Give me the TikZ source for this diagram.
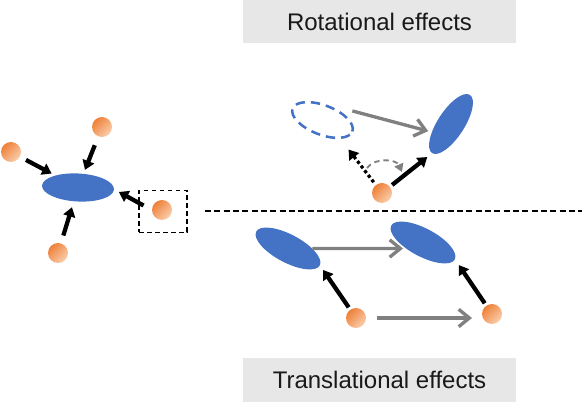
\documentclass[tikz,border=0pt]{standalone}
\usepackage{fontspec}
\setmainfont{Liberation Sans}
\usetikzlibrary{arrows.meta, shapes.geometric}
\definecolor{blobblue}{RGB}{68, 114, 196}
\definecolor{ballorange}{RGB}{238, 128, 56}
\definecolor{ballpale}{RGB}{250, 206, 172}
\definecolor{arrowgray}{RGB}{128, 128, 128}
\definecolor{panelgray}{RGB}{231, 231, 231}
\pgfdeclareradialshading{blobfade}{\pgfpoint{0bp}{0bp}}{color(0bp)=(blobblue); color(31bp)=(blobblue); color(50bp)=(white)}

\begin{document}
\begin{tikzpicture}[
    x=0.75pt, y=-0.75pt,
    panel/.style={fill=panelgray, minimum width=205pt, minimum height=33pt, inner sep=0pt, font=\fontsize{18}{21}\selectfont, text=black!90},
    ball/.style={circle, minimum size=15pt, inner sep=0pt, top color=ballorange, bottom color=ballpale, shading angle=45},
    blob/.style={ellipse, inner sep=0pt, shade, shading=blobfade, minimum width=54pt, minimum height=21pt},
    ghost/.style={ellipse, draw=blobblue, line width=1.9pt, dash pattern=on 7pt off 4.5pt, minimum width=48pt, minimum height=22pt, inner sep=0pt},
    frame/.style={draw, line width=0.9pt, dash pattern=on 3.5pt off 2.5pt, minimum width=36pt, minimum height=31pt, inner sep=0pt},
    push/.style={-{Triangle[length=7pt, width=9pt]}, line width=3.2pt, shorten <=5pt, shorten >=3pt},
    poke/.style={-{Triangle[length=7pt, width=9pt]}, line width=2.4pt, dotted, shorten <=2.5pt, shorten >=10pt},
    move/.style={-{Straight Barb[length=8pt, width=13pt]}, line width=2.5pt, draw=arrowgray},
    swing/.style={-{Triangle[length=6pt, width=7pt]}, line width=1.4pt, draw=arrowgray, dash pattern=on 4pt off 3pt}
]
\useasboundingbox (0,0) rectangle (582,409);

% panel titles
\node[panel] (rotTitle) at (379.5,21.5) {Rotational effects};
\node[panel] (transTitle) at (379.5,380) {Translational effects};

% separator
\coordinate (sepL) at (205,211);
\coordinate (sepR) at (582,211);
\draw[line width=0.8pt, dash pattern=on 4.5pt off 2.5pt] (sepL) -- (sepR);

% left: molecule pushed by its neighbours
\node[blob, rotate=-3] (core) at (78,187.5) {};
\node[ball] (n1) at (11,152) {};
\node[ball] (n2) at (102,127) {};
\node[ball] (n3) at (58,253) {};
\node[ball] (n4) at (162,210) {};
\node[frame] (pick) at (163,211.5) {};

\draw[push] (n1) -- (core);
\draw[push, shorten <=7pt] (n2) -- (core);
\draw[push, shorten <=6pt, shorten >=4.5pt] (n3) -- (core);
\draw[push, shorten <=7pt, shorten >=4pt] (n4.west) -- (core.east);

% rotational effects
\node[ghost, rotate=-21] (before) at (322.5,120) {};
\node[blob, rotate=57, minimum width=52pt, minimum height=20pt] (after) at (451,124) {};
\node[ball] (pivot) at (382,193) {};
\coordinate (swingA) at (367,168);
\coordinate (swingB) at (402,172);

\draw[move, shorten <=3pt, shorten >=1pt] ([yshift=6pt]before.north east) -- ([yshift=6pt]after.north west);
\draw[push, shorten <=2pt, shorten >=4.5pt] (pivot) -- (after.west);
\draw[poke] (pivot) -- (before.south east);
\draw[swing] (swingA) to[bend left=60] (swingB);

% translational effects
\node[blob, rotate=-28] (ta) at (288,248.5) {};
\node[blob, rotate=-28] (tb) at (423,242.5) {};
\node[ball] (pa) at (356,318) {};
\node[ball] (pb) at (492,314) {};

\draw[move, shorten >=15pt] (ta) -- (ta -| tb);
\draw[move, shorten <=8pt, shorten >=15pt] (pa) -- (pa -| pb);
\draw[push, shorten <=2pt, shorten >=4pt] (pa) -- (ta.east);
\draw[push, shorten <=2pt, shorten >=5pt] (pb) -- (tb.east);

\end{tikzpicture}
\end{document}
